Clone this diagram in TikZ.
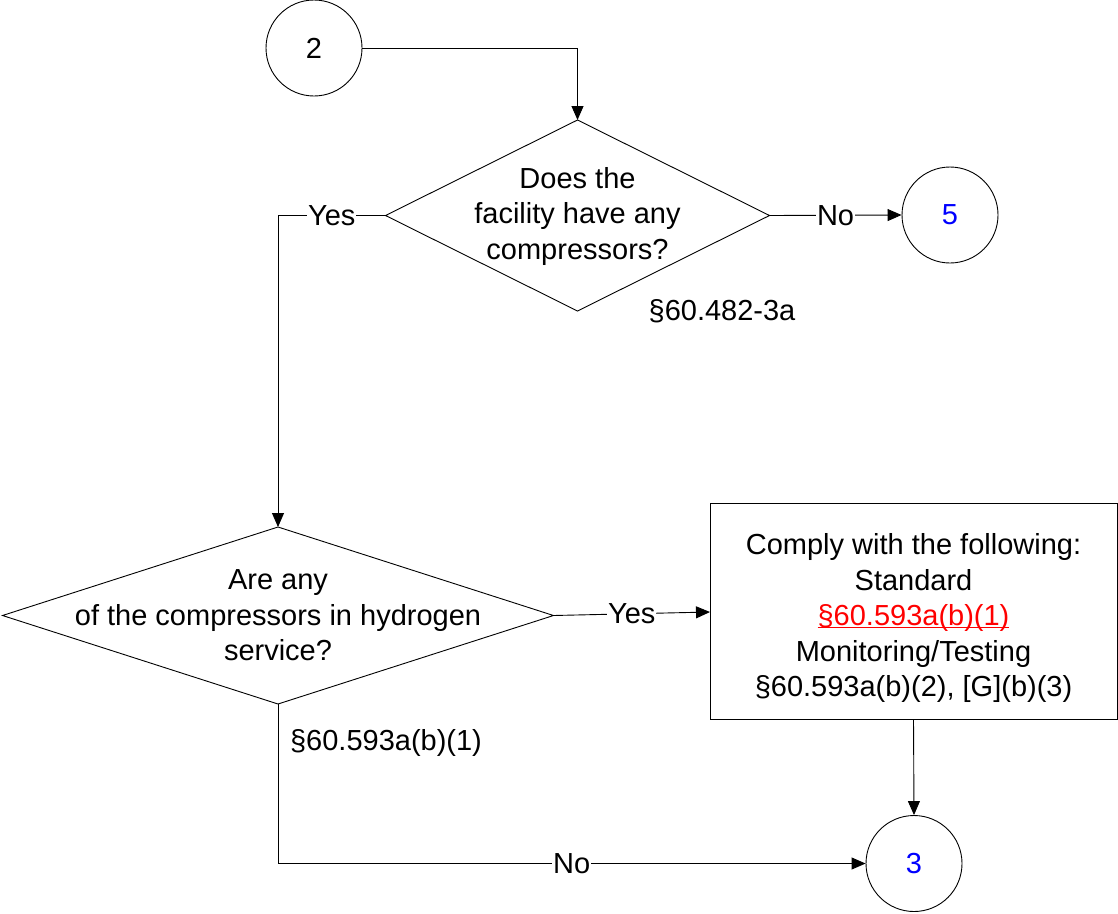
\documentclass[tikz,border=0pt]{standalone}
\usepackage{fontspec}
\setmainfont{Liberation Sans}
\usetikzlibrary{shapes.geometric,arrows.meta}
\newlength\myulw
\newcommand\myredul[1]{\settowidth{\myulw}{#1}\textcolor[RGB]{255,0,0}{\rlap{\rule[-2.5pt]{\myulw}{1.4pt}}#1}}
\begin{document}
\begin{tikzpicture}[x=1pt,y=-1pt,
  every node/.style={font=\fontsize{29}{35.5}\selectfont},
  ln/.style={line width=0.9pt},
  arr/.style={ln,-{Triangle[length=14pt,width=12pt]}},
  conn/.style={draw,circle,ln,minimum size=96pt,inner sep=0pt},
  dia/.style={draw,diamond,ln,inner sep=0pt,outer sep=0pt},
  lbl/.style={fill=white,inner sep=1pt},
  txt/.style={align=center,inner sep=0pt}]
\useasboundingbox (0,0) rectangle (1118,913);
% connectors (circles)
\node[conn] (c2) at (314,48) {2};
\node[conn] (c5) at (950,215) {\textcolor[RGB]{0,0,255}{5}};
\node[conn] (c3) at (914,863.5) {\textcolor[RGB]{0,0,255}{3}};
% decisions
\node[dia,minimum width=384pt,minimum height=191pt] (d1) at (577.5,215.5) {};
\node[txt] (d1t) at (577.5,216) {Does the\\facility have any\\compressors?};
\node[dia,minimum width=551pt,minimum height=177pt] (d2) at (278,615.5) {};
\node[txt] (d2t) at (278,615.5) {Are any\\of the compressors in hydrogen\\service?};
% action box
\node[draw,ln,rectangle,minimum width=407pt,minimum height=216pt,inner sep=0pt] (box) at (913.5,611) {};
\node[txt] (boxt) at (913.5,618) {Comply with the following:\\Standard\\\myredul{§60.593a(b)(1)}\\Monitoring/Testing\\§60.593a(b)(2), [G](b)(3)};
% references
\node[txt] (r1) at (722,311) {§60.482-3a};
\node[txt] (r2) at (386,743) {§60.593a(b)(1)};
\coordinate (boxin) at (710,612);
% edges
\draw[arr] (c2.east) -| (d1.north);
\draw[arr] (d1.east) -- node[lbl] (no1) {No} (c5.west);
\draw[arr] (d1.west) -| node[lbl,pos=0.25] (yes1) {Yes} (d2.north);
\draw[arr] (d2.east) -- node[lbl] (yes2) {Yes} (boxin);
\draw[arr] (box.south) -- (c3.north);
\draw[arr] (d2.south) |- node[lbl,pos=0.75] (no2) {No} (c3.west);
\end{tikzpicture}
\end{document}
